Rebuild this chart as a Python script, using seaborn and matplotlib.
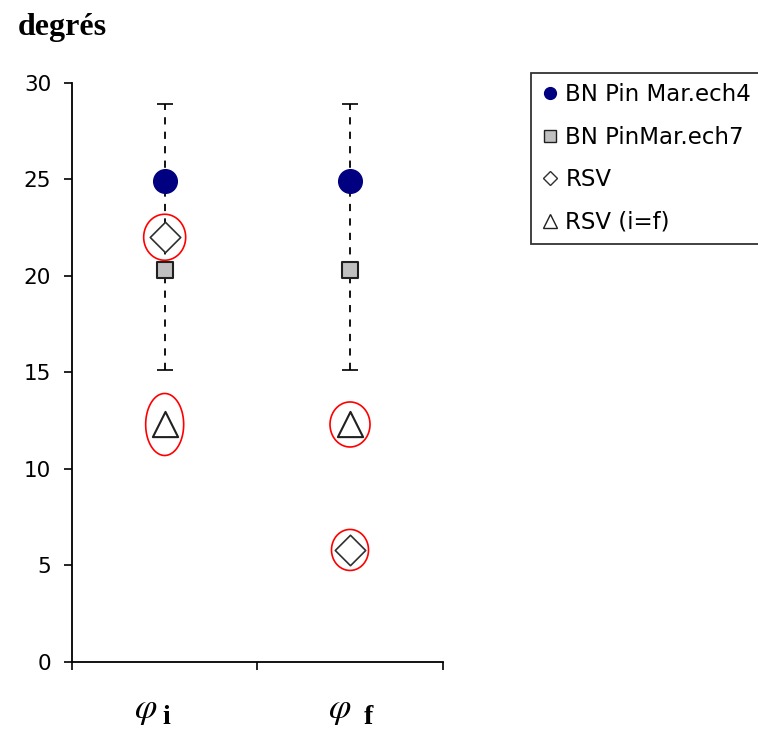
import numpy as np
import pandas as pd
import matplotlib
matplotlib.use("Agg")
import matplotlib.pyplot as plt
from matplotlib.path import Path
from matplotlib.transforms import offset_copy
import seaborn as sns

# data
angles = ["phi_i", "phi_f"]
angle_subs = ["i", "f"]
bn_ech4 = [24.9, 24.9]
bn_ech7 = [20.3, 20.3]
rsv = [22.0, 5.8]
rsv_if = [12.3, 12.3]
err_low = [15.1, 15.1]
err_high = [28.9, 28.9]

# red rings drawn round the RSV points (width, height in px)
ring_rsv = [(42, 46), (37, 41)]
ring_rsv_if = [(38, 62), (40, 45)]

sns.set_theme(style="white")
plt.rcParams["font.family"] = ["DejaVu Sans"]
plt.rcParams["mathtext.fontset"] = "stix"
plt.rcParams["text.color"] = "black"
plt.rcParams["xtick.color"] = "black"
plt.rcParams["ytick.color"] = "black"

df = pd.DataFrame({
    "angle": angles * 4,
    "value": bn_ech4 + bn_ech7 + rsv + rsv_if,
    "series": ["BN Pin Mar.ech4"] * 2 + ["BN PinMar.ech7"] * 2
    + ["RSV"] * 2 + ["RSV (i=f)"] * 2,
})

fig = plt.figure(figsize=(7.58, 7.33), dpi=100)
ax = fig.add_axes([0.095, 0.097, 0.489, 0.79])

xpos = np.arange(len(angles))
yerr = [np.array(bn_ech4) - np.array(err_low), np.array(err_high) - np.array(bn_ech4)]
eb = ax.errorbar(xpos, bn_ech4, yerr=yerr, fmt="none", ecolor="black",
                 elinewidth=1.3, capsize=6, capthick=1.2, zorder=1)
eb[2][0].set_linestyle((0, (4, 4)))

styles = {
    "BN Pin Mar.ech4": dict(marker="o", s=290, color="#000080", edgecolor="#000080", linewidth=1),
    "BN PinMar.ech7": dict(marker="s", s=140, color="#c0c0c0", edgecolor="#202020", linewidth=1.5),
    "RSV": dict(marker="D", s=240, color="white", edgecolor="#303030", linewidth=1.2),
    "RSV (i=f)": dict(marker="^", s=330, color="white", edgecolor="#202020", linewidth=1.5),
}
for name, st in styles.items():
    sub = df[df["series"] == name]
    sns.scatterplot(data=sub, x="angle", y="value", ax=ax, zorder=3, legend=False, **st)


def ellipse_marker(w, h):
    t = np.linspace(0, 2 * np.pi, 80)
    verts = np.column_stack([np.cos(t) * w / h, np.sin(t)])
    return Path(verts, closed=True)


for vals, rings in [(rsv, ring_rsv), (rsv_if, ring_rsv_if)]:
    for i, (w, h) in enumerate(rings):
        ax.scatter([xpos[i]], [vals[i]], marker=ellipse_marker(w, h), s=(h * 0.72) ** 2,
                   facecolor="none", edgecolor="red", linewidth=1.2, zorder=4)

ax.set_xlim(-0.5, 1.5)
ax.set_ylim(0, 30)
ax.set_yticks(np.arange(0, 31, 5))
ax.set_xticks([-0.5, 0.5, 1.5])
ax.set_xticklabels([])
ax.set_xlabel("")
ax.set_ylabel("")
ax.tick_params(axis="both", direction="out", length=6, width=1.2, color="black",
               labelsize=15.5, labelcolor="black", pad=9)
ax.tick_params(axis="x", bottom=True)
ax.tick_params(axis="y", left=True)
sns.despine(ax=ax)
for sp in ["left", "bottom"]:
    ax.spines[sp].set_color("black")
    ax.spines[sp].set_linewidth(1.3)

# category labels: phi with a bold subscript letter
phi_dx = [-19, -10]
sub_dx = [2, 18]
for i, letter in enumerate(angle_subs):
    tr = offset_copy(ax.get_xaxis_transform(), fig=fig, x=phi_dx[i], y=-48, units="dots")
    ax.text(xpos[i], 0, r"$\varphi$", transform=tr, ha="center", va="center",
            fontsize=26, color="black")
    tr2 = offset_copy(ax.get_xaxis_transform(), fig=fig, x=sub_dx[i], y=-56, units="dots")
    ax.text(xpos[i], 0, letter, transform=tr2, ha="center", va="center",
            fontsize=20, fontweight="bold", family="Liberation Serif", color="black")

fig.text(18 / 758, 1 - 28 / 733, "degrés", ha="left", va="center", fontsize=23,
         fontweight="bold", family="Liberation Serif", color="black")

handles = []
for name, st in styles.items():
    h = plt.Line2D([], [], linestyle="none", marker=st["marker"],
                   markersize={"o": 8.5, "s": 8.5, "D": 7.5, "^": 9.5}[st["marker"]],
                   markerfacecolor=st["color"], markeredgecolor=st["edgecolor"],
                   markeredgewidth=1)
    handles.append(h)
leg = fig.legend(handles, list(styles.keys()), loc="upper left",
                 bbox_to_anchor=(531 / 758, 1 - 73 / 733), frameon=True, fancybox=False,
                 fontsize=16.5, handlelength=0.75, handletextpad=0.3, labelspacing=0.85,
                 borderpad=0.45, borderaxespad=0, labelcolor="black")
leg.get_frame().set_edgecolor("black")
leg.get_frame().set_linewidth(1.3)

fig.savefig("out.png", dpi=100)
